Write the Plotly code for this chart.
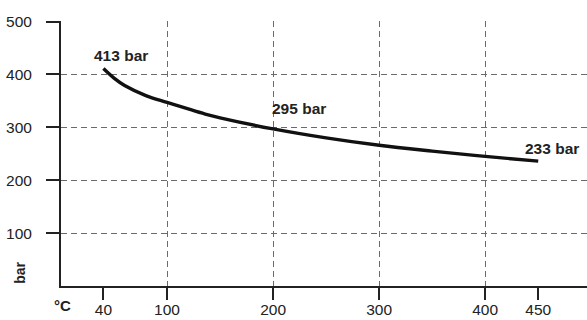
import plotly.graph_objects as go

temp_c = [40, 50, 60, 80, 100, 136, 150, 200, 250, 300, 350, 400, 450]
pressure_bar = [411, 393, 379, 360, 347, 325, 318, 297, 280, 266, 255, 245, 236]

xtick_vals = [40, 100, 200, 300, 400, 450]
xgrid_vals = [100, 200, 300, 400]
ytick_vals = [100, 200, 300, 400, 500]

labels_text = ["413 bar", "295 bar", "233 bar"]
labels_x = [29, 197, 436]
labels_y = [436, 336, 260]

FONT = "Liberation Sans, Arial, sans-serif"
DARK = "#222222"
GRID = "#6a6a6a"

fig = go.Figure()
fig.add_trace(go.Scatter(x=temp_c, y=pressure_bar, mode="lines",
                         line=dict(color="#111111", width=3.4, shape="spline", smoothing=1.0),
                         hoverinfo="skip", showlegend=False))
fig.add_trace(go.Scatter(x=[0], y=[0], xaxis="x2", mode="markers",
                         marker=dict(opacity=0), showlegend=False, hoverinfo="skip"))

for t, x, y in zip(labels_text, labels_x, labels_y):
    fig.add_annotation(x=x, y=y, text=f"<b>{t}</b>", showarrow=False,
                       xanchor="left", yanchor="middle",
                       font=dict(family=FONT, size=15.5, color=DARK))

fig.add_annotation(xref="paper", yref="paper", x=0.003, y=-0.075, text="<b>°C</b>",
                   showarrow=False, xanchor="center", yanchor="middle",
                   font=dict(family=FONT, size=15, color=DARK))
fig.add_annotation(xref="paper", yref="paper", x=-0.078, y=0.05, text="<b>bar</b>",
                   textangle=-90, showarrow=False, xanchor="center", yanchor="middle",
                   font=dict(family=FONT, size=14, color=DARK))

fig.update_layout(
    width=587, height=320,
    margin=dict(l=61, r=0, t=21, b=34, autoexpand=False),
    paper_bgcolor="white", plot_bgcolor="white",
    font=dict(family=FONT, size=15, color=DARK),
    xaxis=dict(range=[0, 496], tickvals=xtick_vals, ticks="outside", ticklen=12,
               tickwidth=2, tickcolor=DARK, showgrid=False, zeroline=False,
               showline=True, linecolor=DARK, linewidth=2, automargin=False,
               ticklabelstandoff=-4, tickfont=dict(size=15.5, color=DARK)),
    xaxis2=dict(range=[0, 496], overlaying="x", matches="x", tickvals=xgrid_vals,
                showgrid=True, gridcolor=GRID, griddash="6px,4px", gridwidth=1,
                showticklabels=False, ticks="", showline=False, zeroline=False,
                side="bottom", automargin=False),
    yaxis=dict(range=[0, 501], tickvals=ytick_vals, ticks="outside", ticklen=13,
               tickwidth=2, tickcolor=DARK, showgrid=True, gridcolor=GRID,
               griddash="6px,4px", gridwidth=1, zeroline=False, showline=True,
               linecolor=DARK, linewidth=2, ticklabelstandoff=11, automargin=False,
               tickfont=dict(size=15.5, color=DARK)),
)

fig.write_html("out.html", config={"displayModeBar": False, "staticPlot": True},
               post_script="document.body.style.margin='0';document.body.style.padding='0';")
